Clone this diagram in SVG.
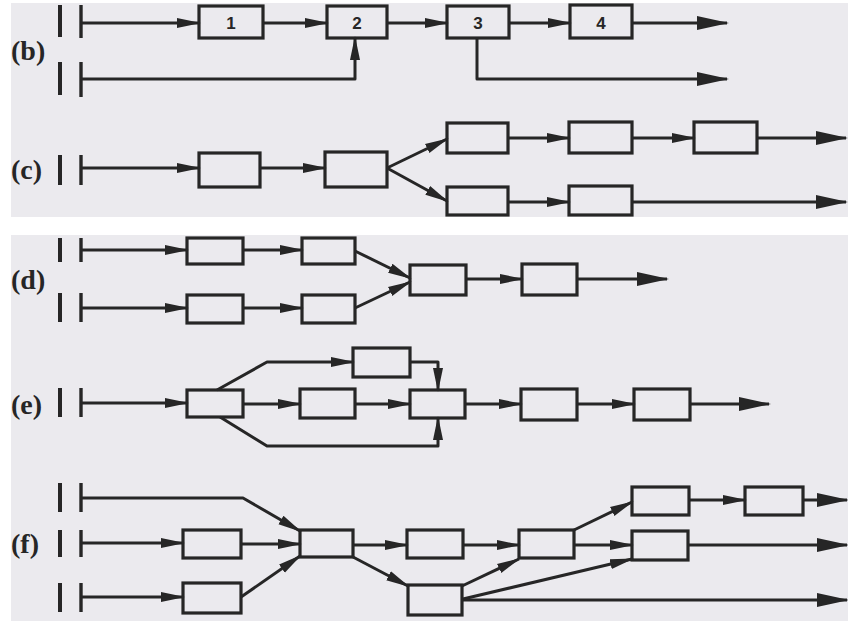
<svg xmlns="http://www.w3.org/2000/svg" width="848" height="621" viewBox="0 0 848 621">
<style>
.ln{fill:none;stroke:#262626;stroke-width:3;stroke-linejoin:round}
.box{fill:none;stroke:#262626;stroke-width:3.2}
.bar{stroke:#262626;stroke-width:4}
.bar2{stroke:#262626;stroke-width:3.4}
.lab{font-family:"Liberation Serif",serif;font-weight:bold;font-size:28px;fill:#262626}
.num{font-family:"Liberation Sans",sans-serif;font-weight:bold;font-size:17px;fill:#262626;text-anchor:middle}
</style>
<defs>
<marker id="a" markerUnits="userSpaceOnUse" markerWidth="24" markerHeight="12" refX="22" refY="6" orient="auto"><path d="M0,1 L24,6 L0,11 z" fill="#262626"/></marker>
<marker id="t" markerUnits="userSpaceOnUse" markerWidth="32" markerHeight="16" refX="30" refY="8" orient="auto"><path d="M0,1 L32,8 L0,15 z" fill="#262626"/></marker>
</defs>
<rect width="848" height="621" fill="#ffffff"/>
<rect x="11" y="3" width="837" height="214" fill="#ebeaee"/>
<rect x="11" y="235" width="837" height="386" fill="#ebeaee"/>

<g id="labels">
<text class="lab" x="11" y="60">(b)</text>
<text class="lab" x="11" y="179">(c)</text>
<text class="lab" x="11" y="289">(d)</text>
<text class="lab" x="11" y="414">(e)</text>
<text class="lab" x="11" y="553">(f)</text>
</g>

<g id="sources">
<line class="bar" x1="60" y1="5" x2="60" y2="37"/><line class="bar2" x1="81" y1="5" x2="81" y2="38"/>
<line class="bar" x1="60" y1="62" x2="60" y2="95"/><line class="bar2" x1="81" y1="62" x2="81" y2="97"/>
<line class="bar" x1="60" y1="155" x2="60" y2="185"/><line class="bar2" x1="81" y1="155" x2="81" y2="185"/>
<line class="bar" x1="60" y1="238" x2="60" y2="262"/><line class="bar2" x1="81" y1="238" x2="81" y2="262"/>
<line class="bar" x1="60" y1="293" x2="60" y2="322"/><line class="bar2" x1="81" y1="293" x2="81" y2="322"/>
<line class="bar" x1="60" y1="388" x2="60" y2="417"/><line class="bar2" x1="81" y1="388" x2="81" y2="417"/>
<line class="bar" x1="60" y1="483" x2="60" y2="512"/><line class="bar2" x1="81" y1="483" x2="81" y2="512"/>
<line class="bar" x1="60" y1="530" x2="60" y2="557"/><line class="bar2" x1="81" y1="530" x2="81" y2="557"/>
<line class="bar" x1="60" y1="583" x2="60" y2="612"/><line class="bar2" x1="81" y1="583" x2="81" y2="612"/>
</g>

<g id="connectors">
<!-- b -->
<path class="ln" d="M81,23 H199" marker-end="url(#a)"/>
<path class="ln" d="M263,23 H327" marker-end="url(#a)"/>
<path class="ln" d="M387,23 H447" marker-end="url(#a)"/>
<path class="ln" d="M509,23 H570" marker-end="url(#a)"/>
<path class="ln" d="M632,23 H727" marker-end="url(#t)"/>
<path class="ln" d="M81,79 H355 V38" marker-end="url(#a)"/>
<path class="ln" d="M477,38 V79 H727" marker-end="url(#t)"/>
<!-- c -->
<path class="ln" d="M81,168 H199" marker-end="url(#a)"/>
<path class="ln" d="M260,168 H325" marker-end="url(#a)"/>
<path class="ln" d="M387,168 L447,139" marker-end="url(#a)"/>
<path class="ln" d="M387,168 L447,201" marker-end="url(#a)"/>
<path class="ln" d="M508,138 H569" marker-end="url(#a)"/>
<path class="ln" d="M632,138 H694" marker-end="url(#a)"/>
<path class="ln" d="M757,138 H846" marker-end="url(#t)"/>
<path class="ln" d="M508,202 H569" marker-end="url(#a)"/>
<path class="ln" d="M632,202 H846" marker-end="url(#t)"/>
<!-- d -->
<path class="ln" d="M81,250 H187" marker-end="url(#a)"/>
<path class="ln" d="M243,250 H302" marker-end="url(#a)"/>
<path class="ln" d="M81,308 H187" marker-end="url(#a)"/>
<path class="ln" d="M243,308 H302" marker-end="url(#a)"/>
<path class="ln" d="M355,251 L410,278" marker-end="url(#a)"/>
<path class="ln" d="M355,308 L410,282" marker-end="url(#a)"/>
<path class="ln" d="M466,279 H522" marker-end="url(#a)"/>
<path class="ln" d="M577,279 H667" marker-end="url(#t)"/>
<!-- e -->
<path class="ln" d="M81,403 H187" marker-end="url(#a)"/>
<path class="ln" d="M217,390 L267,362 H353" marker-end="url(#a)"/>
<path class="ln" d="M243,404 H300" marker-end="url(#a)"/>
<path class="ln" d="M355,404 H410" marker-end="url(#a)"/>
<path class="ln" d="M410,362 H438 V390" marker-end="url(#a)"/>
<path class="ln" d="M220,417 L267,446 H438 V418" marker-end="url(#a)"/>
<path class="ln" d="M465,404 H521" marker-end="url(#a)"/>
<path class="ln" d="M577,404 H634" marker-end="url(#a)"/>
<path class="ln" d="M690,404 H769" marker-end="url(#t)"/>
<!-- f -->
<path class="ln" d="M81,498 H243 L300,531" marker-end="url(#a)"/>
<path class="ln" d="M81,543 H183" marker-end="url(#a)"/>
<path class="ln" d="M241,544 H300" marker-end="url(#a)"/>
<path class="ln" d="M81,597 H183" marker-end="url(#a)"/>
<path class="ln" d="M241,597 L300,556" marker-end="url(#a)"/>
<path class="ln" d="M353,545 H407" marker-end="url(#a)"/>
<path class="ln" d="M353,557 L408,586" marker-end="url(#a)"/>
<path class="ln" d="M463,545 H519" marker-end="url(#a)"/>
<path class="ln" d="M574,530 L632,502" marker-end="url(#a)"/>
<path class="ln" d="M689,500 H745" marker-end="url(#a)"/>
<path class="ln" d="M803,500 H847" marker-end="url(#t)"/>
<path class="ln" d="M574,545 H632" marker-end="url(#a)"/>
<path class="ln" d="M688,545 H847" marker-end="url(#t)"/>
<path class="ln" d="M462,586 L519,559" marker-end="url(#a)"/>
<path class="ln" d="M463,599 L632,559" marker-end="url(#a)"/>
<path class="ln" d="M462,600 H847" marker-end="url(#t)"/>
</g>

<g id="b1"><rect class="box" x="199" y="6" width="64" height="32"/><text class="num" x="231" y="29">1</text></g>
<g id="b2"><rect class="box" x="327" y="6" width="60" height="32"/><text class="num" x="357" y="29">2</text></g>
<g id="b3"><rect class="box" x="447" y="6" width="62" height="32"/><text class="num" x="478" y="29">3</text></g>
<g id="b4"><rect class="box" x="570" y="5" width="62" height="33"/><text class="num" x="601" y="29">4</text></g>

<g id="cA"><rect class="box" x="199" y="153" width="61" height="34"/></g>
<g id="cB"><rect class="box" x="325" y="152" width="62" height="35"/></g>
<g id="cC"><rect class="box" x="447" y="123" width="61" height="30"/></g>
<g id="cD"><rect class="box" x="569" y="122" width="63" height="31"/></g>
<g id="cE"><rect class="box" x="694" y="122" width="63" height="31"/></g>
<g id="cF"><rect class="box" x="447" y="187" width="61" height="28"/></g>
<g id="cG"><rect class="box" x="569" y="186" width="63" height="29"/></g>

<g id="d1"><rect class="box" x="187" y="238" width="56" height="26"/></g>
<g id="d2"><rect class="box" x="302" y="238" width="53" height="26"/></g>
<g id="d3"><rect class="box" x="187" y="295" width="56" height="28"/></g>
<g id="d4"><rect class="box" x="302" y="295" width="53" height="28"/></g>
<g id="d5"><rect class="box" x="410" y="265" width="56" height="30"/></g>
<g id="d6"><rect class="box" x="522" y="264" width="55" height="31"/></g>

<g id="e1"><rect class="box" x="187" y="390" width="56" height="27"/></g>
<g id="e2"><rect class="box" x="353" y="348" width="57" height="29"/></g>
<g id="e3"><rect class="box" x="300" y="389" width="55" height="29"/></g>
<g id="e4"><rect class="box" x="410" y="390" width="55" height="28"/></g>
<g id="e5"><rect class="box" x="521" y="389" width="56" height="31"/></g>
<g id="e6"><rect class="box" x="634" y="389" width="56" height="31"/></g>

<g id="f1"><rect class="box" x="183" y="530" width="58" height="28"/></g>
<g id="f2"><rect class="box" x="183" y="583" width="58" height="30"/></g>
<g id="f3"><rect class="box" x="300" y="530" width="53" height="27"/></g>
<g id="f4"><rect class="box" x="407" y="530" width="56" height="28"/></g>
<g id="f5"><rect class="box" x="408" y="585" width="54" height="30"/></g>
<g id="f6"><rect class="box" x="519" y="530" width="55" height="28"/></g>
<g id="f7"><rect class="box" x="632" y="487" width="57" height="28"/></g>
<g id="f8"><rect class="box" x="745" y="487" width="58" height="28"/></g>
<g id="f9"><rect class="box" x="632" y="531" width="56" height="29"/></g>
</svg>
